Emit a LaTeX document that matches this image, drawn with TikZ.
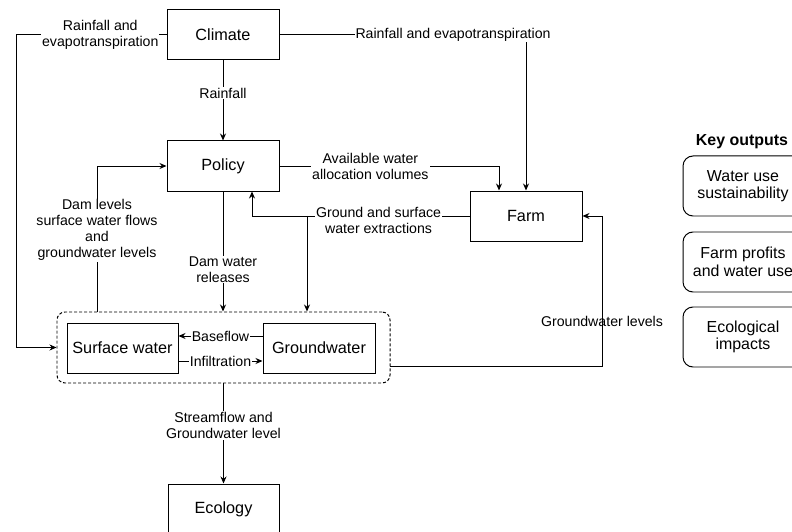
\documentclass[tikz,border=0pt]{standalone}
\usepackage{fontspec}
\setmainfont{Liberation Sans}
\usetikzlibrary{arrows.meta}

\begin{document}
\begin{tikzpicture}[x=1bp,y=-1bp,line width=1pt,>={Stealth[length=7bp,width=6bp]},
	box/.style={draw,minimum width=112bp,minimum height=50bp,inner sep=2pt,font=\fontsize{16.3}{18}\selectfont},
	sysbox/.style={draw,dash pattern=on 3bp off 2bp,rounded corners=8bp},
	lbl/.style={fill=white,inner sep=1pt,align=center,font=\fontsize{14.2}{16}\selectfont},
	outbox/.style={draw,rounded corners=10bp,minimum width=120bp,minimum height=60bp,align=center,font=\fontsize{16}{17.5}\selectfont}]
		\newcommand{\sysw}{333bp} % width of the dashed water system
		\newcommand{\sysh}{71bp}

		\useasboundingbox (0,0) rectangle (792,532);

		% model blocks
		\node[box] (climate) at (223,34.5) {Climate};
		\node[box] (policy) at (223,166) {Policy};
		\node[box] (farm) at (526,216) {Farm};
		\node[sysbox,minimum width=\sysw,minimum height=\sysh] (sys) at (223.5,347.5) {};
		\node[box,minimum width=111bp] (surf) at (122.5,348) {Surface water};
		\node[box] (ground) at (319,348) {Groundwater};
		\node[box,minimum width=111bp] (eco) at (223.5,509) {Ecology};

		% key outputs
		\node[font=\bfseries\fontsize{16}{18}\selectfont] (keyttl) at (742,142) {Key outputs};
		\node[outbox] (out1) at (743,186) {Water use\\sustainability};
		\node[outbox] (out2) at (743,262) {Farm profits\\and water use};
		\node[outbox] (out3) at (743,337) {Ecological\\impacts};

		% bends
		\coordinate (lft) at (16,34.5);
		\coordinate (alloc) at ([xshift=-27bp]farm.north);
		\coordinate (extup) at ([xshift=29bp]policy.south);
		\coordinate (gwtap) at (307,216);
		\coordinate (lvl) at (97,312);
		\coordinate (gwo) at (390,366);
		\coordinate (gwr) at (602,216);

		% climate
		\draw[->] (climate.west) -- node[lbl,pos=.44]{Rainfall and\\evapotranspiration} (lft) |- (sys.west);
		\draw[->] (climate.east) -| node[lbl,pos=.352]{Rainfall and evapotranspiration} (farm.north);
		\draw[->] (climate) -- node[lbl,pos=.41]{Rainfall} (policy);

		% policy and farm
		\draw[->] (policy.east) -| node[lbl,pos=.207]{Available water\\allocation volumes} (alloc);
		\draw[->] (farm.west) -| node[lbl,pos=.209,yshift=-4bp]{Ground and surface\\water extractions} (extup);
		\draw[->] (gwtap) -- (gwtap |- sys.north);
		\draw[->] (policy) -- node[lbl,pos=.65]{Dam water\\releases} (policy |- sys.north);
		\draw[->] (lvl) |- node[lbl,pos=.28]{Dam levels\\surface water flows\\and\\groundwater levels} (policy.west);

		% water exchange
		\draw[->] ([yshift=12bp]ground.west) -- node[lbl]{Baseflow} ([yshift=12bp]surf.east);
		\draw[->] ([yshift=-13bp]surf.east) -- node[lbl]{Infiltration} ([yshift=-13bp]ground.west);

		% outflows
		\draw[->] (gwo) -| node[lbl,fill=none,pos=.65]{Groundwater levels} (gwr) -- (farm.east);
		\draw[->] (sys) -- node[lbl,pos=.42]{Streamflow and\\Groundwater level} (eco);
\end{tikzpicture}
\end{document}
